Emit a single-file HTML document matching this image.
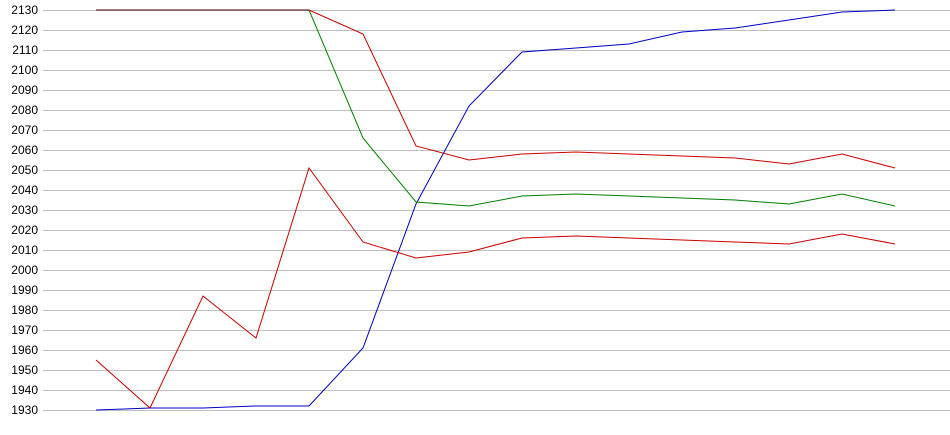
<!DOCTYPE html>
<html><head><style>
html,body{margin:0;padding:0;background:#fff;}
svg{display:block;}
text{font-family:"Liberation Sans",sans-serif;font-size:12px;fill:#000;}
</style></head><body>
<svg width="950" height="435" viewBox="0 0 950 435">
<g stroke="#c0c0c0" stroke-width="1">
<line x1="43" x2="950" y1="10.5" y2="10.5"/><line x1="43" x2="950" y1="30.5" y2="30.5"/><line x1="43" x2="950" y1="50.5" y2="50.5"/><line x1="43" x2="950" y1="70.5" y2="70.5"/><line x1="43" x2="950" y1="90.5" y2="90.5"/><line x1="43" x2="950" y1="110.5" y2="110.5"/><line x1="43" x2="950" y1="130.5" y2="130.5"/><line x1="43" x2="950" y1="150.5" y2="150.5"/><line x1="43" x2="950" y1="170.5" y2="170.5"/><line x1="43" x2="950" y1="190.5" y2="190.5"/><line x1="43" x2="950" y1="210.5" y2="210.5"/><line x1="43" x2="950" y1="230.5" y2="230.5"/><line x1="43" x2="950" y1="250.5" y2="250.5"/><line x1="43" x2="950" y1="270.5" y2="270.5"/><line x1="43" x2="950" y1="290.5" y2="290.5"/><line x1="43" x2="950" y1="310.5" y2="310.5"/><line x1="43" x2="950" y1="330.5" y2="330.5"/><line x1="43" x2="950" y1="350.5" y2="350.5"/><line x1="43" x2="950" y1="370.5" y2="370.5"/><line x1="43" x2="950" y1="390.5" y2="390.5"/><line x1="43" x2="950" y1="410.5" y2="410.5"/>
</g>
<g text-anchor="end">
<text x="38" y="14">2130</text><text x="38" y="34">2120</text><text x="38" y="54">2110</text><text x="38" y="74">2100</text><text x="38" y="94">2090</text><text x="38" y="114">2080</text><text x="38" y="134">2070</text><text x="38" y="154">2060</text><text x="38" y="174">2050</text><text x="38" y="194">2040</text><text x="38" y="214">2030</text><text x="38" y="234">2020</text><text x="38" y="254">2010</text><text x="38" y="274">2000</text><text x="38" y="294">1990</text><text x="38" y="314">1980</text><text x="38" y="334">1970</text><text x="38" y="354">1960</text><text x="38" y="374">1950</text><text x="38" y="394">1940</text><text x="38" y="414">1930</text>
</g>
<g fill="none" stroke-width="1">
<polyline stroke="#0000cc" points="96,410 150,408 203,408 256,406 309,406 363,348 416,204 469,106 522,52 576,48 629,44 682,32 735,28 789,20 842,12 895,10"/>
<polyline stroke="#008000" points="96,10 150,10 203,10 256,10 309,10 363,138 416,202 469,206 522,196 576,194 629,196 682,198 735,200 789,204 842,194 895,206"/>
<polyline stroke="#cc0000" points="96,360 150,408 203,296 256,338 309,168 363,242 416,258 469,252 522,238 576,236 629,238 682,240 735,242 789,244 842,234 895,244"/>
<polyline stroke="#cc0000" points="96,10 150,10 203,10 256,10 309,10 363,34 416,146 469,160 522,154 576,152 629,154 682,156 735,158 789,164 842,154 895,168"/>
<line x1="96" x2="309" y1="10" y2="10" stroke="#400000"/>
</g>
</svg>
</body></html>
